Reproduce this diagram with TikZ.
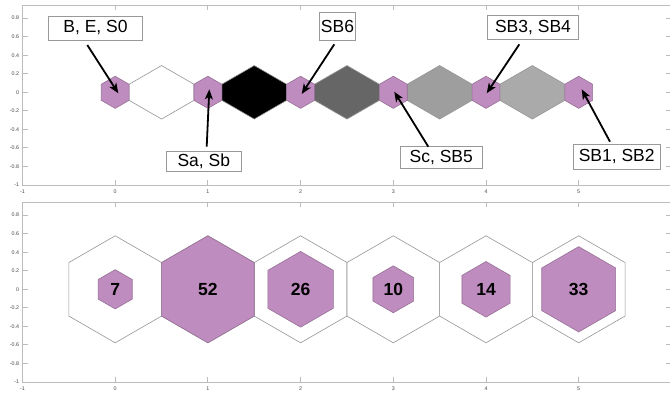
\documentclass[tikz,border=0pt]{standalone}
\usepackage{fontspec}
\setmainfont{Liberation Sans}
\usetikzlibrary{arrows.meta}
\definecolor{somp}{RGB}{191,140,191}
\definecolor{sompe}{RGB}{150,112,150}
\definecolor{axg}{RGB}{188,188,188}
\definecolor{patchedge}{RGB}{150,150,150}
\definecolor{ticktext}{RGB}{70,70,70}
\newcommand\somhex[2]{(#1-0.5*#2,0.28868*#2) -- (#1,0.57735*#2) -- (#1+0.5*#2,0.28868*#2) -- (#1+0.5*#2,-0.28868*#2) -- (#1,-0.57735*#2) -- (#1-0.5*#2,-0.28868*#2) -- cycle}
\newcommand\somedge[1]{(#1+0.15,0.0866) -- (#1+0.5,0.2887) -- (#1+0.85,0.0866) -- (#1+0.85,-0.0866) -- (#1+0.5,-0.2887) -- (#1+0.15,-0.0866) -- cycle}
\newcommand\somaxes[1]{%
  \draw[axisline] (-1,-1) rectangle (6,0.94);
  \foreach \i in {-1,...,6}{
    \draw[axisline] (\i,-1) -- ++(0,0.055);
    \draw[axisline] (\i,0.94) -- ++(0,-0.055);
  }
  \foreach \i in {-1,...,5}{
    \node[ticklab] (#1x\i) at (\i,-1.072) {\i};
  }
  \foreach \v [count=\k] in {-1,-0.8,-0.6,-0.4,-0.2,0,0.2,0.4,0.6,0.8}{
    \draw[axisline] (-1,\v) -- ++(0.055,0);
    \draw[axisline] (6,\v) -- ++(-0.055,0);
    \node[ticklab,anchor=east] (#1y\k) at (-1.035,\v) {\v};
  }
}
\begin{document}
\begin{tikzpicture}[x=1pt,y=-1pt,
  axisline/.style={draw=axg,line width=0.9pt},
  ticklab/.style={font=\fontsize{5.3}{6}\selectfont,text=ticktext,inner sep=0pt},
  neuron/.style={fill=somp,draw=sompe,line width=0.6pt},
  outerhex/.style={fill=white,draw=patchedge,line width=0.6pt},
  patch/.style={draw=patchedge,line width=0.6pt},
  lab/.style={draw=gray!80,fill=white,line width=0.6pt,inner sep=0pt,font=\fontsize{17.5}{20}\selectfont},
  num/.style={font=\fontsize{17.5}{20}\selectfont\bfseries,inner sep=0pt},
  arr/.style={line width=1.8pt,-{Stealth[length=10pt,width=8pt,inset=2.5pt]}}]
\useasboundingbox (0,0) rectangle (670,393);
\fill[white] (0,0) rectangle (670,393);

% ---------- top panel: neighbour distances ----------
\begin{scope}[shift={(115.2,92.3)},x=92.7pt,y=92.7pt]
  \somaxes{t}
  \filldraw[patch,fill=white] \somedge{0};
  \filldraw[patch,fill=black] \somedge{1};
  \filldraw[patch,fill={rgb,255:red,102;green,102;blue,102}] \somedge{2};
  \filldraw[patch,fill={rgb,255:red,158;green,158;blue,158}] \somedge{3};
  \filldraw[patch,fill={rgb,255:red,170;green,170;blue,170}] \somedge{4};
  \foreach \i in {0,...,5}{
    \filldraw[neuron] \somhex{\i}{0.3};
    \coordinate (n\i) at (\i,0);
  }
\end{scope}

% ---------- bottom panel: hits ----------
\begin{scope}[shift={(115.2,289.3)},x=92.7pt,y=92.7pt]
  \somaxes{b}
  \foreach \i/\s/\h in {0/0.3669/7,1/1/52,2/0.7071/26,3/0.4385/10,4/0.5189/14,5/0.7966/33}{
    \filldraw[outerhex] \somhex{\i}{1};
  }
  \foreach \i/\s/\h in {0/0.3669/7,1/1/52,2/0.7071/26,3/0.4385/10,4/0.5189/14,5/0.7966/33}{
    \filldraw[neuron] \somhex{\i}{\s};
    \node[num] (h\i) at (\i,0) {\h};
  }
\end{scope}

% ---------- labels and arrows ----------
\node[lab,minimum width=94.4pt,minimum height=24pt] (L1) at (95.5,28) {B, E, S0};
\node[lab,minimum width=75.7pt,minimum height=20pt] (L2) at (203.8,161.7) {Sa, Sb};
\node[lab,minimum width=36.4pt,minimum height=28pt] (L3) at (337.5,26.7) {SB6};
\node[lab,minimum width=82.7pt,minimum height=21.6pt] (L4) at (441.3,157.5) {Sc, SB5};
\node[lab,minimum width=90.6pt,minimum height=24.3pt] (L5) at (533,27.2) {SB3, SB4};
\node[lab,minimum width=86.7pt,minimum height=25.3pt] (L6) at (616.7,156.7) {SB1, SB2};

\coordinate (a1) at (87.3,45);    \coordinate (b1) at (118.3,93.3);
\coordinate (a2) at (206.7,146.7); \coordinate (b2) at (209.3,89.3);
\coordinate (a3) at (334.3,44.3);  \coordinate (b3) at (301.7,94);
\coordinate (a4) at (428.3,146.7); \coordinate (b4) at (394.3,91.7);
\coordinate (a5) at (519.3,44.3);  \coordinate (b5) at (486.7,93.3);
\coordinate (a6) at (610,141.7);   \coordinate (b6) at (581.7,89.3);
\foreach \k in {1,...,6}{\draw[arr] (a\k) -- (b\k);}
\end{tikzpicture}
\end{document}
